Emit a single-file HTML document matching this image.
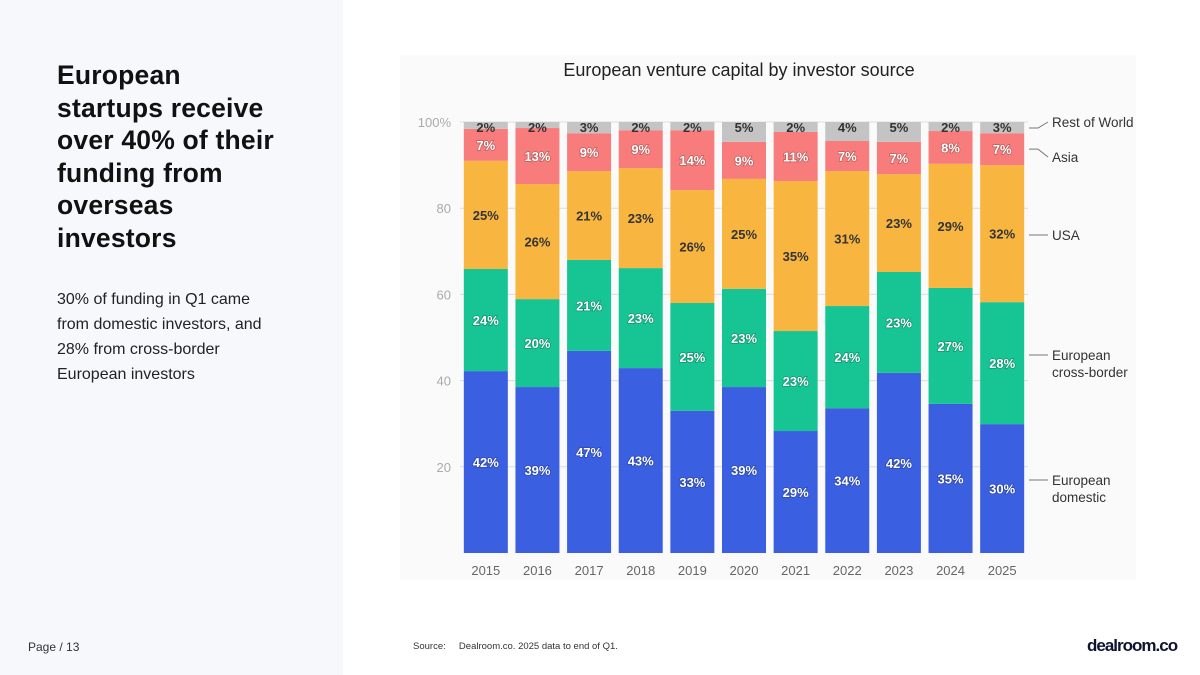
<!DOCTYPE html>
<html><head><meta charset="utf-8"><style>
body{margin:0;width:1200px;height:675px;position:relative;background:#fff;font-family:"Liberation Sans",sans-serif;overflow:hidden}
#left{position:absolute;left:0;top:0;width:343px;height:675px;background:#f7f8fc}
h1{position:absolute;left:57px;top:59px;margin:0;font-size:26.5px;line-height:32.5px;font-weight:bold;color:#111;white-space:nowrap;letter-spacing:0.2px}
#sub{position:absolute;left:57px;top:287px;font-size:16px;line-height:25px;color:#222;white-space:nowrap}
#page{position:absolute;left:28px;top:640px;font-size:12px;color:#333}
#src{position:absolute;left:413px;top:641px;font-size:9.5px;color:#333}
#logo{position:absolute;left:1087px;top:636px;font-size:17px;font-weight:bold;color:#0d1330;letter-spacing:-1px}
</style></head><body>
<div id="left"></div>
<h1>European<br>startups receive<br>over 40% of their<br>funding from<br>overseas<br>investors</h1>
<div id="sub">30% of funding in Q1 came<br>from domestic investors, and<br>28% from cross-border<br>European investors</div>
<div id="page">Page / 13</div>
<div id="src">Source:&nbsp;&nbsp;&nbsp;&nbsp; Dealroom.co. 2025 data to end of Q1.</div>
<div id="logo">dealroom.co</div>
<svg id="chart" width="1200" height="675" style="position:absolute;left:0;top:0"></svg>
<script>
const years=["2015","2016","2017","2018","2019","2020","2021","2022","2023","2024","2025"];
const domestic=[42.2,38.5,46.9,42.9,33.0,38.5,28.3,33.6,41.8,34.6,29.9];
const crossBorder=[23.7,20.4,21.1,23.2,25.0,22.8,23.2,23.7,23.4,26.9,28.3];
const usa=[25.1,26.7,20.6,23.2,26.2,25.5,34.8,31.3,22.7,28.8,31.8];
const asia=[7.4,13.0,8.8,8.8,13.9,8.6,11.4,7.0,7.5,7.6,7.4];
const row=[1.6,1.4,2.6,1.9,1.9,4.6,2.3,4.4,4.6,2.1,2.6];
const labDomestic=["42%","39%","47%","43%","33%","39%","29%","34%","42%","35%","30%"];
const labCross=["24%","20%","21%","23%","25%","23%","23%","24%","23%","27%","28%"];
const labUsa=["25%","26%","21%","23%","26%","25%","35%","31%","23%","29%","32%"];
const labAsia=["7%","13%","9%","9%","14%","9%","11%","7%","7%","8%","7%"];
const labRow=["2%","2%","3%","2%","2%","5%","2%","4%","5%","2%","3%"];
const yTicks=[20,40,60,80,100];
const seriesNames=["European domestic","European cross-border","USA","Asia","Rest of World"];

const NS="http://www.w3.org/2000/svg",svg=document.getElementById('chart');
const y0=553,y100=122,x0=460,x1=1028;
const Y=v=>y0+(y100-y0)*v/100;
const step=(x1-x0)/years.length;
const X=i=>x0+step*(i+0.5);
const bw=44;
function el(t,a,txt){const e=document.createElementNS(NS,t);for(const k in a)e.setAttribute(k,a[k]);if(txt!==undefined)e.textContent=txt;svg.appendChild(e);return e;}
const bg=el('rect',{x:400,y:55,width:736,height:525,fill:'#fafafa'});


const t=el('text',{x:739,y:76,'text-anchor':'middle','font-size':18,fill:'#222'},'European venture capital by investor source');


yTicks.forEach(v=>{
 const g=el('line',{x1:x0,x2:x1,y1:Y(v),y2:Y(v),stroke:'#ddd','stroke-width':1});
 
 
 const l=el('text',{x:451,y:Y(v)+5,'text-anchor':'end','font-size':13,fill:'#aaa'},v===100?'100%':String(v));
 
 
});
const series=[domestic,crossBorder,usa,asia,row];
const labs=[labDomestic,labCross,labUsa,labAsia,labRow];
const colors=['#3a5fe0','#17c494','#f8b640','#f87c7c','#c4c4c4'];
const txtCol=['#fff','#fff','#333','#fff','#333'];
const segNames=['bar-domestic','bar-cross-border','bar-usa','bar-asia','bar-rest-of-world'];
years.forEach((yr,i)=>{
 let cum=0;
 series.forEach((s,k)=>{
  const a=cum,b=cum+s[i];cum=b;
  const r=el('rect',{x:X(i)-bw/2,y:Y(b),width:bw,height:Y(a)-Y(b),fill:colors[k]});
  
  
  let ly=k===4?Y(100)+10:(Y(a)+Y(b))/2+5;
  const tx=el('text',{x:X(i),y:ly,'text-anchor':'middle','font-size':13,'font-weight':'bold',fill:txtCol[k],style:txtCol[k]==='#fff'?'paint-order:stroke;stroke:rgba(0,0,0,0.25);stroke-width:1.5px':''},labs[k][i]);
  
  
 });
 const xl=el('text',{x:X(i),y:575,'text-anchor':'middle','font-size':13,fill:'#666'},yr);
 
 
});
const lastIdx=years.length-1;
const legendY=[480,355,235,157,122];
let cum=0;
series.forEach((s,k)=>{
 const a=cum,b=cum+s[lastIdx];cum=b;
 const segY=k===4?Y(100)+6:(Y(a)+Y(b))/2;
 const ly=legendY[k];
 const ln=el('polyline',{points:`${x1+1},${k<3?ly:segY} ${x1+10},${k<3?ly:segY} ${1048},${ly}`,fill:'none',stroke:'#777','stroke-width':1});
 
 
 const name=seriesNames[k];
 const parts=name.startsWith('European')?['European',name.slice(9)]:[name];
 parts.forEach((p,j)=>{
  const tx=el('text',{x:1052,y:ly+5+j*17,'font-size':13.5,fill:'#333'},p);
  
  
 });
});
</script>
</body></html>
